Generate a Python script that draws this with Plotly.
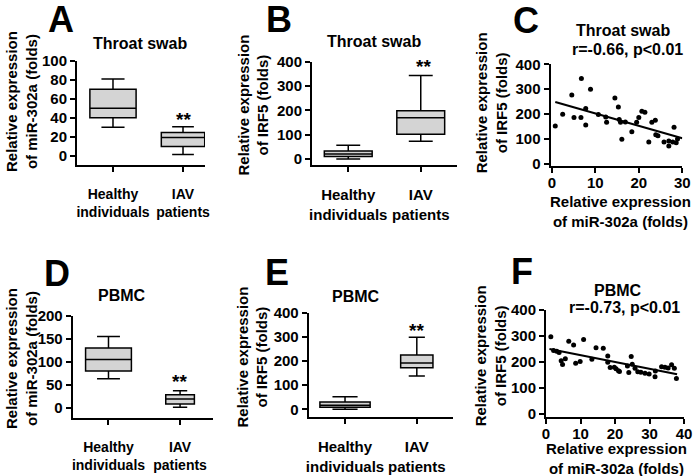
import plotly.graph_objects as go

# ---------------- data ----------------
categories = ["Healthy individuals", "IAV patients"]
cat_ticktext = ["Healthy<br>individuals", "IAV<br>patients"]

# box stats: [lower whisker, Q1, median, Q3, upper whisker]
A_healthy = [30, 40, 50, 70, 81]
A_iav = [1, 9.5, 19, 24.5, 30.5]
B_healthy = [0, 9.6, 20, 33, 56]
B_iav = [73, 102, 170, 199, 344]
D_healthy = [63, 80, 105, 130, 155]
D_iav = [1, 8, 19, 28, 37]
E_healthy = [0, 8, 16.5, 30, 52]
E_iav = [138, 172, 192, 225, 298]

# scatter C (throat swab)
C_mir = [0.8, 2.5, 4.6, 5.1, 6.7, 6.8, 7.8, 7.8, 8.9, 10.7, 12.4, 12.6, 14.5, 15.3, 15.5,
         15.8, 16.1, 16.9, 18.4, 19.5, 20.0, 20.7, 21.4, 22.3, 23.0, 23.8, 23.9, 24.4, 25.8,
         26.9, 26.9, 27.8, 28.1, 28.6, 28.9]
C_irf5 = [152, 200, 277, 187, 187, 343, 223, 156, 300, 199, 189, 168, 265, 229, 179,
          168, 99, 169, 129, 168, 187, 212, 208, 88, 168, 176, 117, 113, 88,
          92, 72, 88, 147, 85, 100]
C_fit_x = [0.8, 30]
C_fit_y = [249, 103]

# scatter F (PBMC)
F_mir = [1.4, 2.2, 3.1, 3.8, 4.4, 4.8, 5.6, 6.6, 8.0, 8.6, 9.9, 10.9, 13.3, 14.5, 16.6,
         17.9, 17.9, 18.6, 19.8, 20.3, 21.0, 21.3, 23.6, 24.0, 24.7, 25.0, 25.8, 26.6, 27.5,
         28.7, 29.9, 31.6, 31.7, 33.5, 34.5, 35.4, 36.4, 37.2, 37.8]
F_irf5 = [297, 244, 242, 237, 205, 191, 213, 280, 266, 195, 202, 287, 211, 255, 253,
          223, 199, 179, 180, 174, 167, 164, 185, 160, 221, 192, 176, 163, 161,
          157, 154, 144, 166, 182, 180, 177, 190, 176, 137]
F_fit_x = [1.0, 38]
F_fit_y = [250, 153]

# ---------------- helpers ----------------
W, H = 700, 476
FONT = "Liberation Sans, Arial, sans-serif"


def px(x):
    return x / W


def py(y):
    return 1 - y / H


fig = go.Figure()
BOXFILL = "#d4d4d4"


def add_box(stats, xpos, width, ax):
    lo, q1, med, q3, hi = stats
    fig.add_trace(go.Box(
        x=[xpos], lowerfence=[lo], q1=[q1], median=[med], q3=[q3], upperfence=[hi],
        width=width, whiskerwidth=0.5, fillcolor=BOXFILL,
        line=dict(color="black", width=1.5), boxpoints=False,
        xaxis="x" + ax, yaxis="y" + ax, showlegend=False, hoverinfo="skip"))


add_box(A_healthy, 0, 0.66, "")
add_box(A_iav, 1, 0.62, "")
add_box(B_healthy, 0, 0.66, "2")
add_box(B_iav, 1, 0.66, "2")
add_box(D_healthy, 0, 0.64, "4")
add_box(D_iav, 1, 0.40, "4")
add_box(E_healthy, 0, 0.70, "5")
add_box(E_iav, 1, 0.45, "5")

for xs, ys, fx, fy, ax in [(C_mir, C_irf5, C_fit_x, C_fit_y, "3"),
                           (F_mir, F_irf5, F_fit_x, F_fit_y, "6")]:
    fig.add_trace(go.Scatter(x=xs, y=ys, mode="markers",
                             marker=dict(color="black", size=5),
                             xaxis="x" + ax, yaxis="y" + ax, showlegend=False))
    fig.add_trace(go.Scatter(x=fx, y=fy, mode="lines",
                             line=dict(color="black", width=2),
                             xaxis="x" + ax, yaxis="y" + ax, showlegend=False))

tickfont = dict(family=FONT, size=15, color="black", weight="bold")
base = dict(showgrid=False, zeroline=False, showline=True, linecolor="black",
            linewidth=2, ticks="outside", ticklen=5, tickwidth=2, tickcolor="black",
            tickfont=tickfont, automargin=False, tickangle=0)

# panel geometry in pixels: (x_left, x_right, y_top, y_bottom)
geo = {
    "": (77, 205, 61, 165),
    "2": (312, 457, 62, 165),
    "3": (550.5, 682.3, 64.3, 166),
    "4": (72.7, 213, 316, 417.7),
    "5": (308.7, 452.7, 312.7, 417),
    "6": (546, 684, 310, 417),
}
xranges = {"": [-0.514, 1.314], "2": [-0.50, 1.50], "3": [-0.3, 30],
           "4": [-0.50, 1.46], "5": [-0.506, 1.50], "6": [0, 40]}
yranges = {"": [-10, 100], "2": [-25, 400], "3": [-8, 400],
           "4": [-22, 200], "5": [-32, 400], "6": [-11, 400]}
ydticks = {"": 20, "2": 100, "3": 100, "4": 50, "5": 100, "6": 100}
catfont_size = {"": 14, "2": 15, "4": 14, "5": 15}

layout = dict(width=W, height=H, margin=dict(l=0, r=0, t=0, b=0, autoexpand=False),
              paper_bgcolor="white", plot_bgcolor="white", showlegend=False)

for ax, (xl, xr, yt, yb) in geo.items():
    xa = dict(base, domain=[px(xl), px(xr)], range=xranges[ax],
              anchor="y" + ax)
    if ax in ("3", "6"):
        xa.update(tickmode="linear", tick0=0, dtick=10, ticklabelstandoff=-3)
    else:
        xa.update(tickmode="array", tickvals=[0, 1], ticktext=cat_ticktext,
                  ticklabelstandoff=10,
                  tickfont=dict(tickfont, size=catfont_size[ax]))
    ya = dict(base, domain=[py(yb), py(yt)], range=yranges[ax], anchor="x" + ax,
              tickmode="linear", tick0=0, dtick=ydticks[ax])
    layout["xaxis" + ax] = xa
    layout["yaxis" + ax] = ya

annotations = []


def ann(text, x, y, size=15, angle=0):
    annotations.append(dict(text=text, x=px(x), y=py(y), xref="paper", yref="paper",
                            showarrow=False, xanchor="center", yanchor="middle",
                            textangle=angle,
                            font=dict(family=FONT, size=size, color="black",
                                      weight="bold")))


# panel letters
for letter, x, y in [("A", 61, 20), ("B", 278.5, 20), ("C", 526, 21),
                     ("D", 56.7, 273.5), ("E", 276.7, 272), ("F", 521.7, 271)]:
    ann(letter, x, y, size=36)

# titles
ann("Throat swab", 140, 43, size=16)
ann("Throat swab", 374, 41, size=16)
ann("Throat swab", 622.5, 30, size=16)
ann("r=-0.66, p<0.01", 627.5, 49.5, size=16)
ann("PBMC", 121.5, 295.3, size=16)
ann("PBMC", 355.8, 296, size=16)
ann("PBMC", 617.5, 290.3, size=16)
ann("r=-0.73, p<0.01", 624, 307.7, size=16)

# y titles
mir_title = "Relative expression<br>of miR-302a (folds)"
irf_title = "Relative expression<br>of IRF5 (folds)"
ann(mir_title, 21, 102, angle=-90)
ann(irf_title, 252.5, 105, angle=-90)
ann(irf_title, 491.3, 103, angle=-90)
ann(mir_title, 21, 359, angle=-90)
ann(irf_title, 252, 357.5, angle=-90)
ann(irf_title, 490.3, 356, angle=-90)

# x titles of scatter panels
ann(mir_title, 620, 211)
ann(mir_title, 616, 458)

# significance marks
ann("**", 183, 119, size=19)
ann("**", 423.3, 67, size=19)
ann("**", 180, 381, size=19)
ann("**", 416.7, 330, size=19)

layout["annotations"] = annotations
fig.update_layout(**layout)
fig.write_html(
    "out.html",
    config={"displayModeBar": False, "staticPlot": True},
    post_script="document.body.style.margin='0';document.body.style.overflow='hidden';",
)
